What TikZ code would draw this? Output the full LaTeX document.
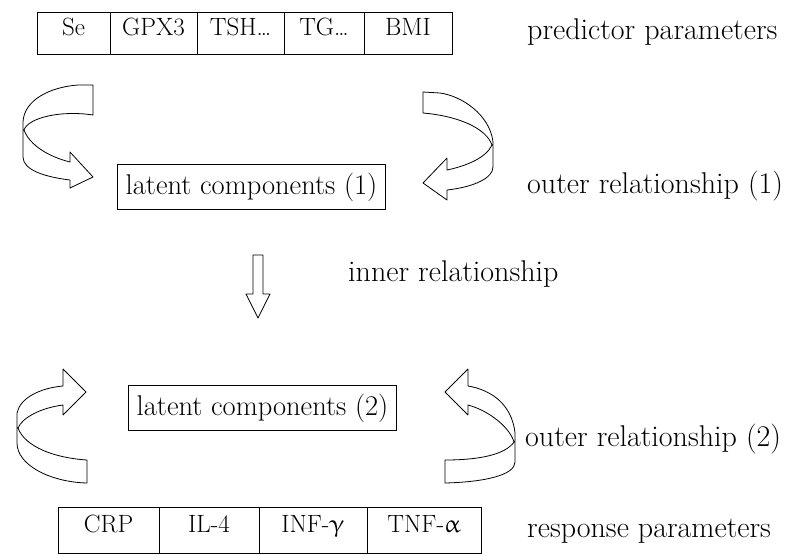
\documentclass[tikz,border=0pt]{standalone}
\usepackage{fontspec}
\usepackage{upgreek}
\usetikzlibrary{positioning}

\begin{document}
\begin{tikzpicture}[x=1pt,y=-1pt,
    cell/.style={draw, line width=1pt, outer sep=0pt, inner sep=2pt,
      font=\fontsize{25}{29}\selectfont},
    topcell/.style={cell, text height=21pt, text depth=17pt},
    botcell/.style={cell, text height=23pt, text depth=19pt},
    latbox/.style={draw, line width=1pt, inner sep=0pt,
      font=\fontsize{28.5}{32}\selectfont},
    lbl/.style={anchor=west, inner sep=0pt, font=\fontsize{30}{34}\selectfont},
    band/.style={line width=0.8pt, line join=round}]
  \useasboundingbox (0,0) rectangle (800,555);

  % predictor table
  \node[topcell, minimum width=73, anchor=north west] (se) at (37,12) {Se};
  \node[topcell, minimum width=87, right=0pt of se] (gpx) {GPX3};
  \node[topcell, minimum width=87, right=0pt of gpx] (tsh) {TSH\ldots};
  \node[topcell, minimum width=80, right=0pt of tsh] (tg) {TG\ldots};
  \node[topcell, minimum width=88, right=0pt of tg] (bmi) {BMI};

  % latent boxes
  \node[latbox, minimum width=268, minimum height=45, anchor=north west] (lat1) at (117,164) {latent components (1)};
  \node[latbox, minimum width=268, minimum height=45, anchor=north west] (lat2) at (128,385) {latent components (2)};

  % response table
  \node[botcell, minimum width=101, anchor=north west] (crp) at (58,507) {CRP};
  \node[botcell, minimum width=100, right=0pt of crp] (il) {IL-4};
  \node[botcell, minimum width=108, right=0pt of il] (inf) {INF-$\upgamma$};
  \node[botcell, minimum width=114, right=0pt of inf] (tnf) {TNF-$\upalpha$};

  % labels
  \node[lbl] (pred) at (527,32) {predictor parameters};
  \node[lbl] (outer1) at (527,186) {outer relationship (1)};
  \node[lbl] (inner) at (348,274) {inner relationship};
  \node[lbl] (outer2) at (525,439) {outer relationship (2)};
  \node[lbl] (resp) at (527,531) {response parameters};

  % inner arrow
  \draw[band] (253,255) -- (263,255) -- (263,294) -- (270,294) -- (258,318)
    -- (246,294) -- (253,294) -- cycle;

  % curved arrows, top
  \draw[band] (93,85) -- (93,115)
    .. controls (60,110) and (28,118) .. (24,130)
    .. controls (30,146) and (50,157) .. (70,162)
    -- (70,152) -- (93,177) -- (70,188) -- (70,180)
    .. controls (45,177) and (23,170) .. (23,157)
    -- (23,122)
    .. controls (24,100) and (50,87) .. (78,85) -- cycle;
  \draw[band] (423,92) -- (423,113)
    .. controls (458,116) and (486,128) .. (492,145)
    .. controls (486,158) and (466,166) .. (447,170)
    -- (447,158) -- (423,183) -- (447,200) -- (447,190)
    .. controls (474,187) and (493,178) .. (493,167)
    -- (493,142)
    .. controls (490,115) and (462,96) .. (440,93) -- cycle;

  % curved arrows, bottom
  \draw[band] (87,460) -- (87,483)
    .. controls (50,482) and (17,465) .. (17,443)
    -- (17,413)
    .. controls (20,398) and (40,388) .. (63,386)
    -- (63,369) -- (86,392) -- (63,415) -- (63,405)
    .. controls (40,408) and (22,418) .. (18,428)
    .. controls (25,447) and (55,458) .. cycle;
  \draw[band] (445,460) -- (445,483)
    .. controls (485,482) and (515,475) .. (515,462)
    -- (515,433)
    .. controls (512,405) and (492,390) .. (468,386)
    -- (468,369) -- (445,392) -- (468,415) -- (468,405)
    .. controls (490,411) and (510,428) .. (514,442)
    .. controls (505,455) and (478,460) .. cycle;
\end{tikzpicture}
\end{document}
